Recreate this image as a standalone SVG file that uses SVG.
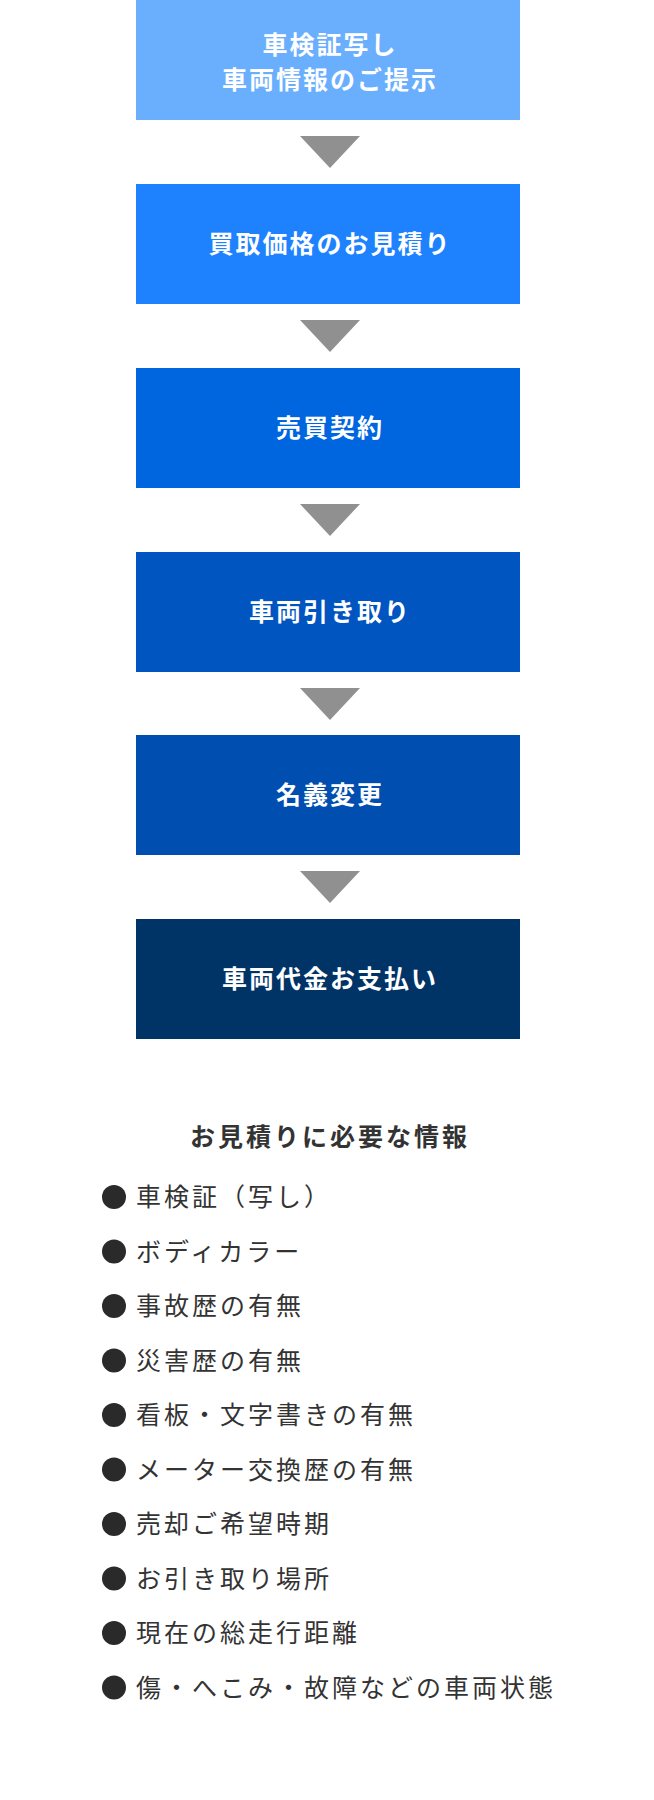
<svg xmlns="http://www.w3.org/2000/svg" width="654" height="1800" viewBox="0 0 654 1800">
<style>
.bt{font-family:"Noto Sans CJK JP","Noto Sans",sans-serif;font-size:25px;font-weight:bold;fill:#fff;text-anchor:middle;letter-spacing:2px}
.li{font-family:"Noto Sans CJK JP","Noto Sans",sans-serif;font-size:25px;fill:#333;letter-spacing:3px}
.h{font-family:"Noto Sans CJK JP","Noto Sans",sans-serif;font-size:25px;font-weight:bold;fill:#333;text-anchor:middle;letter-spacing:3px}
.tri{fill:#909090}
</style>
<rect width="654" height="1800" fill="#fff"/>
<g id="n1"><rect x="136" y="0" width="384" height="120" fill="#6aaefe"/><text class="bt" x="330" y="54">車検証写し</text><text class="bt" x="330" y="89">車両情報のご提示</text></g>
<g id="n2"><rect x="136" y="184" width="384" height="120" fill="#1e82ff"/><text class="bt" x="330" y="253">買取価格のお見積り</text></g>
<g id="n3"><rect x="136" y="368" width="384" height="120" fill="#0066e0"/><text class="bt" x="330" y="437">売買契約</text></g>
<g id="n4"><rect x="136" y="552" width="384" height="120" fill="#0055c0"/><text class="bt" x="330" y="621">車両引き取り</text></g>
<g id="n5"><rect x="136" y="735" width="384" height="120" fill="#004eb0"/><text class="bt" x="330" y="804">名義変更</text></g>
<g id="n6"><rect x="136" y="919" width="384" height="120" fill="#003366"/><text class="bt" x="330" y="988">車両代金お支払い</text></g>
<g id="connectors">
<polygon class="tri" points="300,136 360,136 330,168"/>
<polygon class="tri" points="300,320 360,320 330,352"/>
<polygon class="tri" points="300,504 360,504 330,536"/>
<polygon class="tri" points="300,688 360,688 330,720"/>
<polygon class="tri" points="300,871 360,871 330,903"/>
</g>
<g id="info">
<text class="h" x="330" y="1146">お見積りに必要な情報</text>
<g fill="#2a2a2a">
<circle cx="114" cy="1197" r="12"/><circle cx="114" cy="1251.5" r="12"/><circle cx="114" cy="1306" r="12"/><circle cx="114" cy="1360.5" r="12"/><circle cx="114" cy="1415" r="12"/><circle cx="114" cy="1469.5" r="12"/><circle cx="114" cy="1524" r="12"/><circle cx="114" cy="1578.5" r="12"/><circle cx="114" cy="1633" r="12"/><circle cx="114" cy="1687.5" r="12"/>
</g>
<text class="li" x="136" y="1206">車検証（写し）</text>
<text class="li" x="136" y="1260.5">ボディカラー</text>
<text class="li" x="136" y="1315">事故歴の有無</text>
<text class="li" x="136" y="1369.5">災害歴の有無</text>
<text class="li" x="136" y="1424">看板・文字書きの有無</text>
<text class="li" x="136" y="1478.5">メーター交換歴の有無</text>
<text class="li" x="136" y="1533">売却ご希望時期</text>
<text class="li" x="136" y="1587.5">お引き取り場所</text>
<text class="li" x="136" y="1642">現在の総走行距離</text>
<text class="li" x="136" y="1696.5">傷・へこみ・故障などの車両状態</text>
</g>
</svg>
